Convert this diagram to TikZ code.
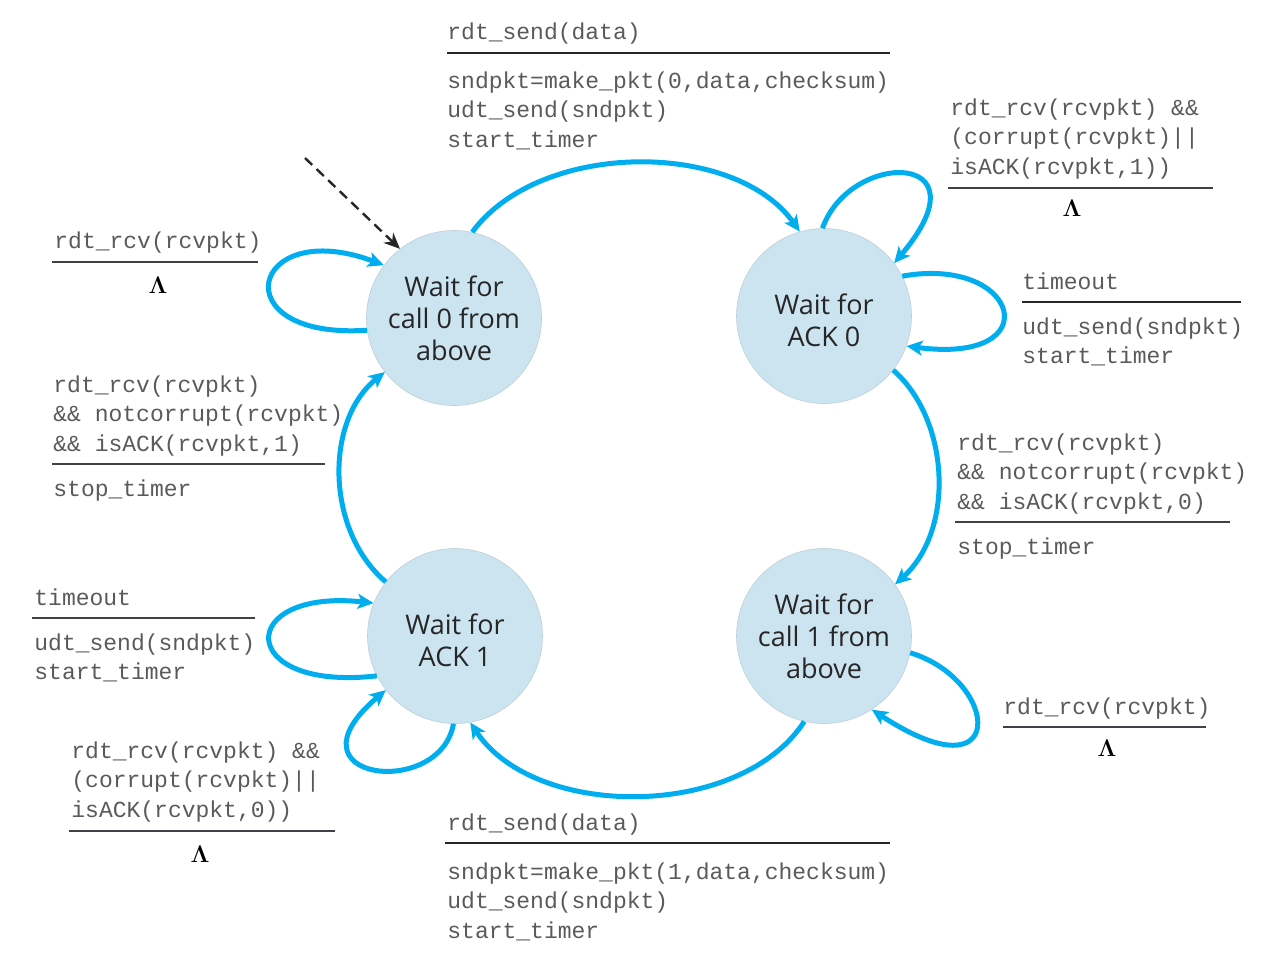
\documentclass[tikz,border=0pt]{standalone}
\usepackage[no-math]{fontspec}
\setmonofont{Liberation Mono}
\newfontfamily\statefont{Open Sans}
\usetikzlibrary{arrows.meta}
\definecolor{arc}{HTML}{00AEEF}
\definecolor{statefill}{HTML}{CCE3F0}
\definecolor{lbl}{HTML}{5A5A5A}
\definecolor{rulec}{HTML}{3C4248}
\newcommand{\codelines}[1]{\begin{tabular}[t]{@{}l@{}}#1\end{tabular}}
\begin{document}
\begin{tikzpicture}[x=0.5pt,y=-0.5pt,
 state/.style={circle, fill=statefill, draw=statefill!80!gray, line width=0.3pt, minimum size=87.5pt, inner sep=0pt, align=center, font=\statefont\fontsize{13.5}{16}\selectfont, text=black!85},
 trans/.style={draw=arc, line width=2.5pt, -{Stealth[length=8pt,width=7.5pt,inset=2pt]}},
 lab/.style={anchor=base west, inner sep=0pt, text=lbl, font=\ttfamily\fontsize{11.5}{14.8}\selectfont},
 lam/.style={inner sep=0pt, font=\fontsize{12}{12}\selectfont},
 rulel/.style={draw=rulec, line width=1pt}
]
\useasboundingbox (0,0) rectangle (1274,955);

% states
\node[state] (A) at (454,318) {Wait for\\call 0 from\\above};
\node[state] (B) at (824,316) {\rule{0pt}{15pt}Wait for\\ACK 0};
\node[state] (C) at (824,636) {Wait for\\call 1 from\\above};
\node[state] (D) at (455,636) {\rule{0pt}{15pt}Wait for\\ACK 1};

% main transitions
\draw[trans] (A.78) .. controls (540,140) and (735,140) .. (B.106);
\draw[trans] (B.-38) .. controls (950,420) and (955,530) .. (C.36);
\draw[trans] (C.-103) .. controls (740,820) and (535,820) .. (D.-80);
\draw[trans] (D.142) .. controls (325,530) and (325,420) .. (A.218);

% self loops
\draw[trans] (A.188) .. controls (220,340) and (250,215) .. (A.143);
\draw[trans] (B.91) .. controls (850,150) and (990,150) .. (B.37);
\draw[trans] (B.27) .. controls (1020,255) and (1050,365) .. (B.-20);
\draw[trans] (C.-11) .. controls (1000,680) and (1010,800) .. (C.-57);
\draw[trans] (D.207) .. controls (235,692) and (235,588) .. (D.158);
\draw[trans] (D.-91) .. controls (440,800) and (280,780) .. (D.218);

% initial
\coordinate (init) at (305,158);
\draw[black!85, line width=1.2pt, dash pattern=on 5pt off 3pt, -{Stealth[length=8pt,width=7pt]}] (init) -- (A.128);

% labels: top
\node[lab] (t1c) at (447,39) {rdt\_send(data)};
\draw[rulel, draw=black!85] (447,53) -- (890,53);
\node[lab] (t1a) at (447,88) {\codelines{sndpkt=make\_pkt(0,data,checksum)\\udt\_send(sndpkt)\\start\_timer}};

% top right
\node[lab] (t2c) at (950,115) {\codelines{rdt\_rcv(rcvpkt) \&\&\\(corrupt(rcvpkt)||\\isACK(rcvpkt,1))}};
\draw[rulel] (948,188) -- (1213,188);
\node[lam] (t2a) at (1072,208) {$\mathbf{\Lambda}$};

% right timeout
\node[lab] (t3c) at (1022,289) {timeout};
\draw[rulel, draw=black!85] (1022,302) -- (1241,302);
\node[lab] (t3a) at (1022,334) {\codelines{udt\_send(sndpkt)\\start\_timer}};

% right middle
\node[lab] (t4c) at (957,450) {\codelines{rdt\_rcv(rcvpkt)\\\&\& notcorrupt(rcvpkt)\\\&\& isACK(rcvpkt,0)}};
\draw[rulel] (955,522) -- (1230,522);
\node[lab] (t4a) at (957,554) {stop\_timer};

% right bottom
\node[lab] (t5c) at (1003,714) {rdt\_rcv(rcvpkt)};
\draw[rulel] (1003,727) -- (1206,727);
\node[lam] (t5a) at (1107,748) {$\mathbf{\Lambda}$};

% bottom
\node[lab] (t6c) at (447,830) {rdt\_send(data)};
\draw[rulel, draw=black!85] (445,843) -- (890,843);
\node[lab] (t6a) at (447,879) {\codelines{sndpkt=make\_pkt(1,data,checksum)\\udt\_send(sndpkt)\\start\_timer}};

% bottom left
\node[lab] (t7c) at (71,758) {\codelines{rdt\_rcv(rcvpkt) \&\&\\(corrupt(rcvpkt)||\\isACK(rcvpkt,0))}};
\draw[rulel] (69,831) -- (335,831);
\node[lam] (t7a) at (200,854) {$\mathbf{\Lambda}$};

% left timeout
\node[lab] (t8c) at (34,605) {timeout};
\draw[rulel] (32,618) -- (255,618);
\node[lab] (t8a) at (34,650) {\codelines{udt\_send(sndpkt)\\start\_timer}};

% left middle
\node[lab] (t9c) at (53,392) {\codelines{rdt\_rcv(rcvpkt)\\\&\& notcorrupt(rcvpkt)\\\&\& isACK(rcvpkt,1)}};
\draw[rulel] (52,464) -- (325,464);
\node[lab] (t9a) at (53,496) {stop\_timer};

% top left
\node[lab] (t10c) at (54,248) {rdt\_rcv(rcvpkt)};
\draw[rulel] (52,262) -- (258,262);
\node[lam] (t10a) at (158,285) {$\mathbf{\Lambda}$};
\end{tikzpicture}
\end{document}
